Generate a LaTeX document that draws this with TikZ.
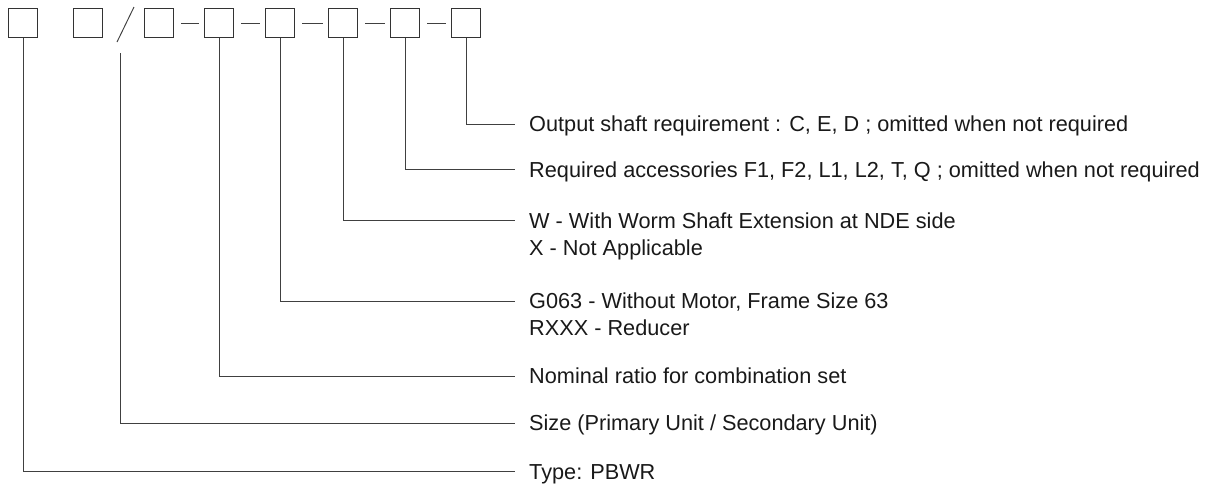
\documentclass[tikz,border=0pt]{standalone}
\usepackage{fontspec}
\setmainfont{Liberation Sans}
\begin{document}
\begin{tikzpicture}[x=1pt,y=-1pt,
  codebox/.style={draw=black!80,line width=1.1pt,minimum width=29pt,minimum height=29pt,inner sep=0pt,anchor=north west},
  lead/.style={draw=black!75,line width=0.95pt},
  desc/.style={anchor=base west,inner sep=0pt,font=\fontsize{21.7}{25}\selectfont,text=black!90}]
\useasboundingbox (0,0) rectangle (1208,493);
% code boxes
\node[codebox] (b1) at (8,8) {};
\node[codebox] (b2) at (73,8) {};
\node[codebox] (b3) at (144,8) {};
\node[codebox] (b4) at (204,8) {};
\node[codebox] (b5) at (265,8) {};
\node[codebox] (b6) at (328,8) {};
\node[codebox] (b7) at (390,8) {};
\node[codebox] (b8) at (451,8) {};
% slash
\coordinate (s1) at (134,7);
\coordinate (s2) at (117,42);
\draw[lead] (s1) -- (s2);
% dashes
\draw[lead] ([xshift=7pt]b3.east) -- ([xshift=-5pt]b4.west);
\draw[lead] ([xshift=7pt]b4.east) -- ([xshift=-5pt]b5.west);
\draw[lead] ([xshift=7pt]b5.east) -- ([xshift=-5pt]b6.west);
\draw[lead] ([xshift=7pt]b6.east) -- ([xshift=-5pt]b7.west);
\draw[lead] ([xshift=7pt]b7.east) -- ([xshift=-5pt]b8.west);
% descriptions
\node[desc] (t8) at (529,131.5) {Output shaft requirement : C, E, D ; omitted when not required};
\node[desc] (t7) at (529,177) {Required accessories F1, F2, L1, L2, T, Q ; omitted when not required};
\node[desc] (t6a) at (529,228) {W - With Worm Shaft Extension at NDE side};
\node[desc] (t6b) at (529,255) {X - Not Applicable};
\node[desc] (t5a) at (529,308.5) {G063 - Without Motor, Frame Size 63};
\node[desc] (t5b) at (529,335) {RXXX - Reducer};
\node[desc] (t4) at (529,383.5) {Nominal ratio for combination set};
\node[desc] (t2) at (529,430.5) {Size (Primary Unit / Secondary Unit)};
\node[desc] (t1) at (529,479) {Type: PBWR};
% leader end points
\coordinate (e8) at (515,124);
\coordinate (e7) at (515,169.5);
\coordinate (e6) at (515,220);
\coordinate (e5) at (515,301);
\coordinate (e4) at (515,376);
\coordinate (e2) at (515,423);
\coordinate (e1) at (515,471.5);
\coordinate (sl) at (120.5,53);
% leaders
\draw[lead] (b8.south) |- (e8);
\draw[lead] (b7.south) |- (e7);
\draw[lead] (b6.south) |- (e6);
\draw[lead] (b5.south) |- (e5);
\draw[lead] (b4.south) |- (e4);
\draw[lead] (sl) |- (e2);
\draw[lead] (b1.south) |- (e1);
\end{tikzpicture}
\end{document}
